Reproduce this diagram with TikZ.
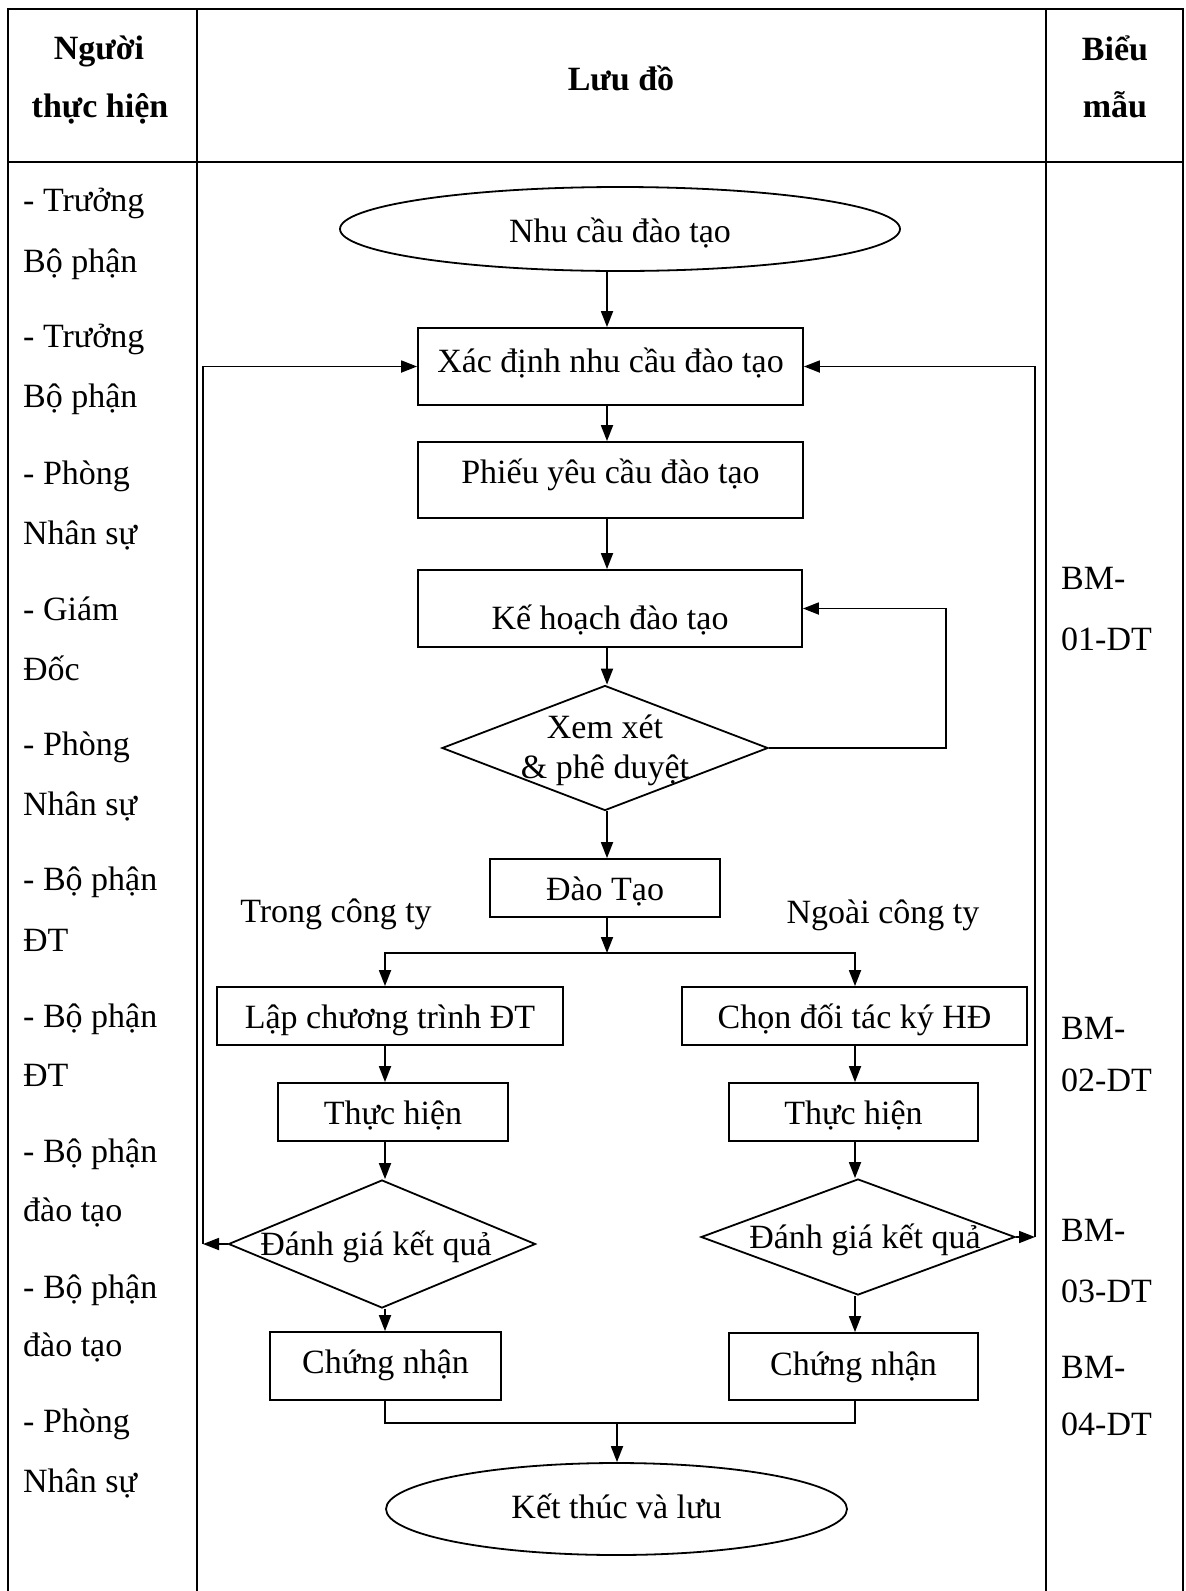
\documentclass[tikz,border=0pt]{standalone}
\usepackage{fontspec}
\setmainfont{Liberation Serif}
\usetikzlibrary{arrows.meta,shapes.geometric}
\newcommand\fsz{\fontsize{34}{40}\selectfont}
\begin{document}
\begin{tikzpicture}[x=1pt,y=-1pt,
  every node/.style={font=\fsz},
  tbl/.style={line width=2.7pt},
  fl/.style={line width=1.8pt},
  arr/.style={fl,-{Triangle[length=16pt,width=12pt]}},
  bx/.style={draw,fl,rectangle,inner sep=0pt,text depth=0pt},
  el/.style={draw,fl,ellipse,inner sep=0pt,text depth=0pt},
  dm/.style={draw,fl,diamond,inner sep=0pt},
  txt/.style={anchor=base,inner sep=0pt},
  lt/.style={anchor=base west,inner sep=0pt}]
\fill[white] (0,0) rectangle (1186,1591);
\useasboundingbox (0,0) rectangle (1186,1591);

% table
\draw[tbl] (8,1591) -- (8,9) -- (1183,9) -- (1183,1591);
\draw[tbl] (8,162) -- (1183,162);
\draw[tbl] (197,9) -- (197,1591);
\draw[tbl] (1046,9) -- (1046,1591);

% headers
\node[txt,font=\fsz\bfseries] (h1a) at (99,59) {Người};
\node[txt,font=\fsz\bfseries] (h1b) at (100,117) {thực hiện};
\node[txt,font=\fsz\bfseries] (h2) at (621,90) {Lưu đồ};
\node[txt,font=\fsz\bfseries] (h3a) at (1115,60) {Biểu};
\node[txt,font=\fsz\bfseries] (h3b) at (1115,117) {mẫu};

% left column
\node[lt] (l1) at (23,211) {- Trưởng};
\node[lt] (l2) at (23,272) {Bộ phận};
\node[lt] (l3) at (23,347) {- Trưởng};
\node[lt] (l4) at (23,407) {Bộ phận};
\node[lt] (l5) at (23,484) {- Phòng};
\node[lt] (l6) at (23,544) {Nhân sự};
\node[lt] (l7) at (23,620) {- Giám};
\node[lt] (l8) at (23,680) {Đốc};
\node[lt] (l9) at (23,755) {- Phòng};
\node[lt] (l10) at (23,815) {Nhân sự};
\node[lt] (l11) at (23,890) {- Bộ phận};
\node[lt] (l12) at (23,951) {ĐT};
\node[lt] (l13) at (23,1027) {- Bộ phận};
\node[lt] (l14) at (23,1086) {ĐT};
\node[lt] (l15) at (23,1162) {- Bộ phận};
\node[lt] (l16) at (23,1221) {đào tạo};
\node[lt] (l17) at (23,1298) {- Bộ phận};
\node[lt] (l18) at (23,1356) {đào tạo};
\node[lt] (l19) at (23,1432) {- Phòng};
\node[lt] (l20) at (23,1492) {Nhân sự};

% right column
\node[lt] (r1) at (1061,589) {BM-};
\node[lt] (r2) at (1061,650) {01-DT};
\node[lt] (r3) at (1061,1039) {BM-};
\node[lt] (r4) at (1061,1091) {02-DT};
\node[lt] (r5) at (1061,1241) {BM-};
\node[lt] (r6) at (1061,1302) {03-DT};
\node[lt] (r7) at (1061,1378) {BM-};
\node[lt] (r8) at (1061,1435) {04-DT};

% flowchart nodes
\node[el,minimum width=560pt,minimum height=84pt,text height=26pt] (nc) at (620,229) {Nhu cầu đào tạo};
\node[bx,minimum width=385pt,minimum height=77pt,text height=12pt] (xd) at (610.5,366.5) {Xác định nhu cầu đào tạo};
\node[bx,minimum width=385pt,minimum height=76pt,text height=6pt] (py) at (610.5,480) {Phiếu yêu cầu đào tạo};
\node[bx,minimum width=384pt,minimum height=77pt,text height=42pt] (kh) at (610,608.5) {Kế hoạch đào tạo};
\node[dm,minimum width=326pt,minimum height=125pt] (xx) at (605,748) {};
\node[txt] (xxa) at (605,738) {Xem xét};
\node[txt] (xxb) at (605,778) {\& phê duyệt};
\node[bx,minimum width=230pt,minimum height=58pt,text height=24pt] (dt) at (605,888) {Đào Tạo};
\node[txt] (tct) at (336,922) {Trong công ty};
\node[txt] (nct) at (883,923) {Ngoài công ty};
\node[bx,minimum width=346pt,minimum height=58pt,text height=24pt] (lap) at (390,1016) {Lập chương trình ĐT};
\node[bx,minimum width=345pt,minimum height=58pt,text height=24pt] (chon) at (854.5,1016) {Chọn đối tác ký HĐ};
\node[bx,minimum width=230pt,minimum height=58pt,text height=24pt] (th1) at (393,1112) {Thực hiện};
\node[bx,minimum width=249pt,minimum height=58pt,text height=24pt] (th2) at (853.5,1112) {Thực hiện};
\node[dm,minimum width=307pt,minimum height=128pt] (dg1) at (382,1244) {};
\node[txt] (dg1t) at (376,1255) {Đánh giá kết quả};
\node[dm,minimum width=314pt,minimum height=116pt] (dg2) at (858,1237) {};
\node[txt] (dg2t) at (865,1248) {Đánh giá kết quả};
\node[bx,minimum width=231pt,minimum height=68pt,text height=14pt] (cn1) at (385.5,1366) {Chứng nhận};
\node[bx,minimum width=249pt,minimum height=67pt,text height=18pt] (cn2) at (853.5,1366.5) {Chứng nhận};
\node[el,minimum width=461pt,minimum height=92pt,text height=18pt] (kt) at (616.5,1509) {Kết thúc và lưu};

% helper coordinates
\coordinate (colM) at (607,0);
\coordinate (colL) at (385,0);
\coordinate (colR) at (855,0);
\coordinate (br) at (607,953);
\coordinate (fbl) at (203,1244);
\coordinate (fbr) at (1035,1237);
\coordinate (fbx) at (946,748);
\coordinate (mg) at (617,1423);

% connectors
\draw[arr] (nc.south -| colM) -- (xd.north -| colM);
\draw[arr] (xd.south -| colM) -- (py.north -| colM);
\draw[arr] (py.south -| colM) -- (kh.north -| colM);
\draw[arr] (kh.south -| colM) -- (xx.north -| colM);
\draw[arr] (xx.south -| colM) -- (dt.north -| colM);
\draw[arr] (dt.south -| colM) -- (br);
\draw[arr] (br) -| (lap.north -| colL);
\draw[arr] (br) -| (chon.north -| colR);
\draw[arr] (lap.south -| colL) -- (th1.north -| colL);
\draw[arr] (th1.south -| colL) -- (dg1.north -| colL);
\draw[arr] (dg1.south -| colL) -- (cn1.north -| colL);
\draw[arr] (chon.south -| colR) -- (th2.north -| colR);
\draw[arr] (th2.south -| colR) -- (dg2.north -| colR);
\draw[arr] (dg2.south -| colR) -- (cn2.north -| colR);
\draw[arr] (xx.east) -- (fbx) |- (kh.east);
\draw[arr] (dg1.west) -- (fbl);
\draw[arr] (fbl) |- (xd.west);
\draw[arr] (dg2.east) -- (fbr);
\draw[arr] (fbr) |- (xd.east);
\draw[fl] (cn1.south -| colL) |- (mg) -| (cn2.south -| colR);
\draw[arr] (mg) -- (kt.north -| mg);
\end{tikzpicture}
\end{document}
